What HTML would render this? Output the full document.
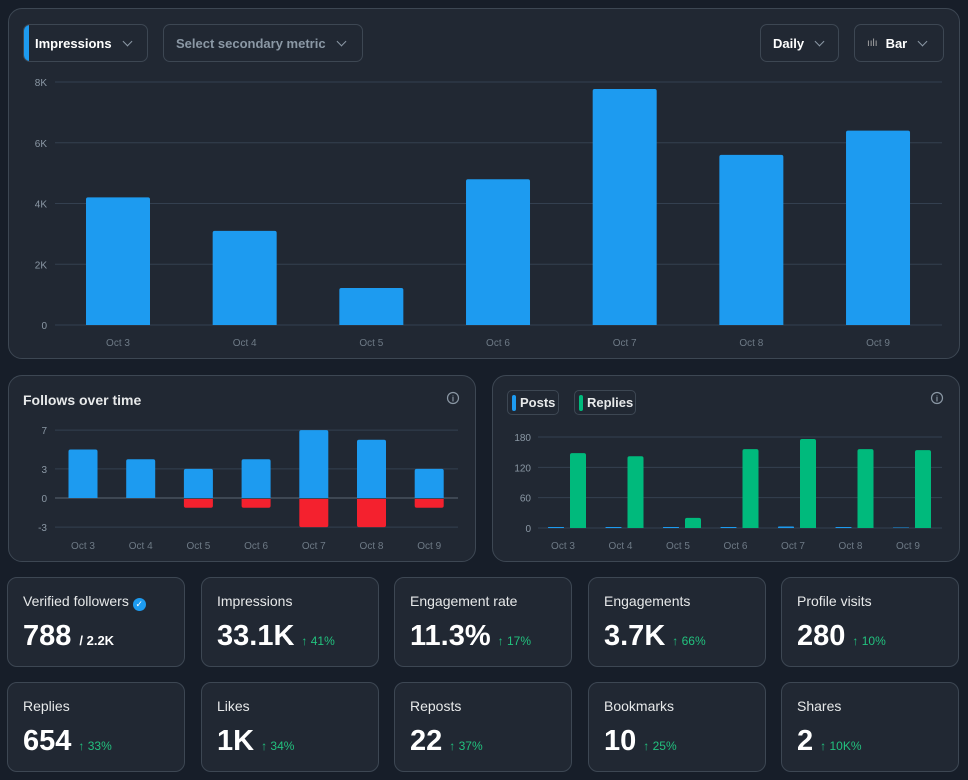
<!DOCTYPE html>
<html><head><meta charset="utf-8">
<style>
*{box-sizing:border-box;margin:0;padding:0}
body{width:968px;height:780px;background:#171e29;font-family:"Liberation Sans",sans-serif;position:relative;overflow:hidden;color:#e7e9ea}
.card{position:absolute;background:#212833;border:1px solid #3d4753;border-radius:14px}
.btn{position:absolute;border:1px solid #3d4753;border-radius:7px;height:38px;display:flex;align-items:center;font-size:13px;font-weight:bold;color:#fff;white-space:nowrap}
.chev{display:inline-block;width:7px;height:7px;border-right:1.5px solid #8b98a5;border-bottom:1.5px solid #8b98a5;transform:rotate(45deg);margin-left:12px;margin-top:-4px}
.stat{position:absolute;width:178px;height:90px;background:#212833;border:1px solid #3d4753;border-radius:10px}
.stat .t{position:absolute;left:15px;top:15px;font-size:14px;color:#e7e9ea;white-space:nowrap}
.stat .v{position:absolute;left:15px;top:42px;font-size:29px;font-weight:bold;color:#fff;white-space:nowrap}
.stat .d{font-size:12px;font-weight:normal;color:#22c17e;margin-left:7px}
svg text{font-family:"Liberation Sans",sans-serif}
</style></head><body>
<div class="card" style="left:8px;top:8px;width:952px;height:351px"></div>
<div class="btn" style="left:23px;top:24px;width:125px;overflow:hidden"><span style="width:6px;height:38px;background:#1d9bf0;margin-right:6px;margin-left:-1px"></span>Impressions<span class="chev"></span></div>
<div class="btn" style="left:163px;top:24px;width:200px;padding-left:12px;color:#8b98a5">Select secondary metric<span class="chev"></span></div>
<div class="btn" style="left:760px;top:24px;width:79px;padding-left:12px">Daily<span class="chev"></span></div>
<div class="btn" style="left:854px;top:24px;width:90px;padding-left:12px"><span style="font-size:10px;color:#aaa;margin-right:8px;font-weight:normal">ıılı</span>Bar<span class="chev"></span></div>
<svg id="main" style="position:absolute;left:0;top:0" width="968" height="360"></svg>

<div class="card" style="left:8px;top:375px;width:468px;height:187px"></div>
<div style="position:absolute;left:23px;top:392px;font-size:14px;font-weight:bold;color:#e7e9ea">Follows over time</div>
<svg id="fol" style="position:absolute;left:0;top:370px" width="480" height="200"></svg>

<div class="card" style="left:492px;top:375px;width:468px;height:187px"></div>
<div style="position:absolute;left:507px;top:390px;width:52px;height:25px;border:1px solid #3d4753;border-radius:5px;font-size:13px;font-weight:bold;display:flex;align-items:center;padding-left:4px"><span style="width:4px;height:16px;background:#1d9bf0;border-radius:2px;margin-right:4px"></span>Posts</div>
<div style="position:absolute;left:574px;top:390px;width:62px;height:25px;border:1px solid #3d4753;border-radius:5px;font-size:13px;font-weight:bold;display:flex;align-items:center;padding-left:4px"><span style="width:4px;height:16px;background:#00ba7c;border-radius:2px;margin-right:4px"></span>Replies</div>
<svg id="pr" style="position:absolute;left:490px;top:370px" width="478" height="200"></svg>

<div class="stat" style="left:7px;top:577px"><div class="t">Verified followers <span style="display:inline-block;width:13px;height:13px;border-radius:50%;background:#1d9bf0;color:#fff;font-size:9px;text-align:center;line-height:13px;vertical-align:-1px">✓</span></div><div class="v">788<span style="font-size:13px;margin-left:8px">/ 2.2K</span></div></div>
<div class="stat" style="left:201px;top:577px"><div class="t">Impressions</div><div class="v">33.1K<span class="d">↑ 41%</span></div></div>
<div class="stat" style="left:394px;top:577px"><div class="t">Engagement rate</div><div class="v">11.3%<span class="d">↑ 17%</span></div></div>
<div class="stat" style="left:588px;top:577px"><div class="t">Engagements</div><div class="v">3.7K<span class="d">↑ 66%</span></div></div>
<div class="stat" style="left:781px;top:577px"><div class="t">Profile visits</div><div class="v">280<span class="d">↑ 10%</span></div></div>
<div class="stat" style="left:7px;top:682px"><div class="t">Replies</div><div class="v">654<span class="d">↑ 33%</span></div></div>
<div class="stat" style="left:201px;top:682px"><div class="t">Likes</div><div class="v">1K<span class="d">↑ 34%</span></div></div>
<div class="stat" style="left:394px;top:682px"><div class="t">Reposts</div><div class="v">22<span class="d">↑ 37%</span></div></div>
<div class="stat" style="left:588px;top:682px"><div class="t">Bookmarks</div><div class="v">10<span class="d">↑ 25%</span></div></div>
<div class="stat" style="left:781px;top:682px"><div class="t">Shares</div><div class="v">2<span class="d">↑ 10K%</span></div></div>

<script>
const days=["Oct 3","Oct 4","Oct 5","Oct 6","Oct 7","Oct 8","Oct 9"];
const impressions=[4200,3100,1220,4800,7770,5600,6400];
const impTicks=[0,2000,4000,6000,8000];
const impTickLabels=["0","2K","4K","6K","8K"];
const followsGained=[5,4,3,4,7,6,3];
const followsLost=[0,0,-1,-1,-3,-3,-1];
const folTicks=[7,3,0,-3];
const posts=[2,2,2,2,3,2,1];
const replies=[148,142,20,156,176,156,154];
const prTicks=[0,60,120,180];
const NS="http://www.w3.org/2000/svg";
function el(svg,tag,a,txt){const e=document.createElementNS(NS,tag);for(const k in a)e.setAttribute(k,a[k]);if(txt!==undefined)e.textContent=txt;svg.appendChild(e);return e;}
function rr(x,y,w,h,r){if(h<=0)return "";r=Math.min(r,h/2);return `M${x},${y+h}V${y+r}Q${x},${y} ${x+r},${y}H${x+w-r}Q${x+w},${y} ${x+w},${y+r}V${y+h}Z`;}
function rb(x,y,w,h,r){if(h<=0)return "";r=Math.min(r,h/2);return `M${x},${y}H${x+w}V${y+h-r}Q${x+w},${y+h} ${x+w-r},${y+h}H${x+r}Q${x},${y+h} ${x},${y+h-r}Z`;}
// main
(function(){const s=document.getElementById('main');
const y=v=>325-v/8000*243, x=i=>118+i*126.67;
impTicks.forEach((t,i)=>{const l=el(s,'line',{x1:55,x2:942,y1:y(t),y2:y(t),stroke:'#344050','stroke-width':1});
const tx=el(s,'text',{x:47,y:y(t)+4,'text-anchor':'end','font-size':10,fill:'#8b98a5'},impTickLabels[i]);});
impressions.forEach((v,i)=>{const b=el(s,'path',{d:rr(x(i)-32,y(v),64,325-y(v),2),fill:'#1d9bf0'});
const t=el(s,'text',{x:x(i),y:346,'text-anchor':'middle','font-size':10,fill:'#6e7a86'},days[i]);});
})();
// follows
(function(){const s=document.getElementById('fol');
const y=v=>128-v*9.7, x=i=>83+i*57.7;
folTicks.forEach(t=>{const l=el(s,'line',{x1:55,x2:458,y1:y(t),y2:y(t),stroke:t===0?'#5b6673':'#344050','stroke-width':1});
const tx=el(s,'text',{x:47,y:y(t)+4,'text-anchor':'end','font-size':10,fill:'#8b98a5'},t);});
days.forEach((d,i)=>{const g=followsGained[i],l=followsLost[i];
const b=el(s,'path',{d:rr(x(i)-14.5,y(g),29,y(0)-y(g),2),fill:'#1d9bf0'});
if(l<0){const r=el(s,'path',{d:rb(x(i)-14.5,y(0)+1,29,y(l)-y(0)-1,2),fill:'#f4212e'});}
const t=el(s,'text',{x:x(i),y:179,'text-anchor':'middle','font-size':10,fill:'#6e7a86'},d);});
el(s,'circle',{cx:453,cy:28,r:5.5,fill:'none',stroke:'#8b98a5','stroke-width':1.2});
el(s,'text',{x:453,y:31.5,'text-anchor':'middle','font-size':8,fill:'#8b98a5','font-weight':'bold'},'i');
})();
// posts replies
(function(){const s=document.getElementById('pr');
const y=v=>158-v/180*91, x=i=>73+i*57.5;
prTicks.forEach(t=>{const l=el(s,'line',{x1:48,x2:452,y1:y(t),y2:y(t),stroke:'#344050','stroke-width':1});
const tx=el(s,'text',{x:41,y:y(t)+4,'text-anchor':'end','font-size':10,fill:'#8b98a5'},t);});
days.forEach((d,i)=>{
const p=el(s,'path',{d:rr(x(i)-15,y(posts[i]),16,y(0)-y(posts[i]),1),fill:'#1d9bf0'});
const r=el(s,'path',{d:rr(x(i)+7,y(replies[i]),16,y(0)-y(replies[i]),2),fill:'#00ba7c'});
const t=el(s,'text',{x:x(i),y:179,'text-anchor':'middle','font-size':10,fill:'#6e7a86'},d);});
el(s,'circle',{cx:447,cy:28,r:5.5,fill:'none',stroke:'#8b98a5','stroke-width':1.2});
el(s,'text',{x:447,y:31.5,'text-anchor':'middle','font-size':8,fill:'#8b98a5','font-weight':'bold'},'i');
})();
</script>
</body></html>
